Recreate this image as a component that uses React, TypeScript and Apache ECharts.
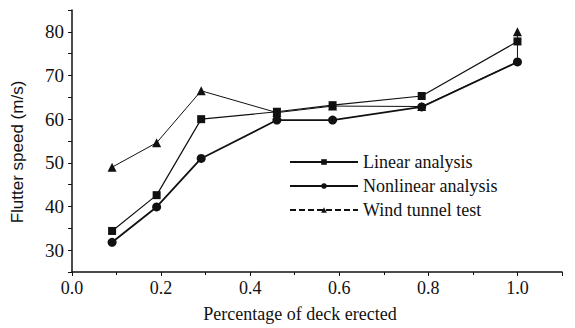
import React, { useEffect, useRef } from "react";
import * as echarts from "echarts";

const xDeck = [0.09, 0.19, 0.29, 0.46, 0.585, 0.785, 1.0];
const linearValues = [34.4, 42.6, 60.0, 61.7, 63.2, 65.3, 77.8];
const nonlinearValues = [31.8, 39.9, 51.0, 59.8, 59.8, 62.8, 73.1];
const windValues = [49.0, 54.6, 66.5, 61.5, 63.0, 62.9, 80.0];
// the drawn wind-tunnel line reaches x = 1.0 along the nonlinear line, then rises vertically
const windJoinAtEnd = 73.1;
const seriesNames = ["Linear analysis", "Nonlinear analysis", "Wind tunnel test"];

const pair = (vals: number[]) => xDeck.map((x, i) => [x, vals[i]]);

export default function App() {
  const ref = useRef<HTMLDivElement>(null);
  useEffect(() => {
    const chart = echarts.init(ref.current!, null, { renderer: "svg" });
    const serif = "Liberation Serif";
    const windData: any[] = pair(windValues);
    const last = windData.length - 1;
    windData.splice(last, 0, { value: [xDeck[last], windJoinAtEnd], symbol: "none" });
    chart.setOption({
      animation: false,
      backgroundColor: "#fff",
      grid: { left: 72, right: 13, top: 10, bottom: 56, containLabel: false, outerBoundsMode: "none" },
      legend: {
        orient: "vertical",
        left: 284,
        top: 148,
        itemWidth: 68,
        itemHeight: 7,
        itemGap: 6,
        textStyle: { fontFamily: serif, fontSize: 18, color: "#111" },
        data: [
          { name: seriesNames[0] },
          { name: seriesNames[1] },
          { name: seriesNames[2], lineStyle: { type: [6, 3] } },
        ],
      },
      xAxis: {
        type: "value",
        min: 0,
        max: 1.1,
        interval: 0.2,
        name: "Percentage of deck erected",
        nameLocation: "middle",
        nameGap: 33,
        nameTextStyle: { fontFamily: serif, fontSize: 18, color: "#111", padding: [0, 34, 0, 0] },
        axisLine: { lineStyle: { color: "#111", width: 1.5 } },
        axisTick: { show: true, inside: false, length: 4, lineStyle: { color: "#111" } },
        minorTick: { show: true, splitNumber: 2, length: 3, lineStyle: { color: "#111" } },
        splitLine: { show: false },
        axisLabel: {
          fontFamily: serif,
          fontSize: 18,
          color: "#111",
          margin: 7,
          formatter: (v: number) => (Math.abs(v * 5 - Math.round(v * 5)) < 1e-6 ? v.toFixed(1) : ""),
        },
      },
      yAxis: {
        type: "value",
        min: 25,
        max: 85,
        interval: 5,
        name: "Flutter speed (m/s)",
        nameLocation: "middle",
        nameGap: 46,
        nameTextStyle: { fontFamily: "Liberation Sans", fontSize: 17, color: "#111", padding: [0, 22, 0, 0] },
        axisLine: { show: true, lineStyle: { color: "#111", width: 1.5 } },
        axisTick: { show: true, inside: false, length: 4, lineStyle: { color: "#111" } },
        splitLine: { show: false },
        axisLabel: {
          fontFamily: serif,
          fontSize: 19,
          color: "#111",
          margin: 8,
          formatter: (v: number) => (v % 10 === 0 ? String(v) : ""),
        },
      },
      series: [
        {
          name: seriesNames[2],
          type: "line",
          data: windData,
          symbol: "triangle",
          symbolSize: 9,
          lineStyle: { color: "#111", width: 1 },
          itemStyle: { color: "#111" },
        },
        {
          name: seriesNames[0],
          type: "line",
          data: pair(linearValues),
          symbol: "rect",
          symbolSize: 8,
          lineStyle: { color: "#111", width: 1.2 },
          itemStyle: { color: "#111" },
        },
        {
          name: seriesNames[1],
          type: "line",
          data: pair(nonlinearValues),
          symbol: "circle",
          symbolSize: 9,
          lineStyle: { color: "#111", width: 1.8 },
          itemStyle: { color: "#111" },
        },
      ],
    });
    return () => chart.dispose();
  }, []);
  return <div ref={ref} style={{ width: 575, height: 328, position: "absolute", left: 0, top: 0 }} />;
}
